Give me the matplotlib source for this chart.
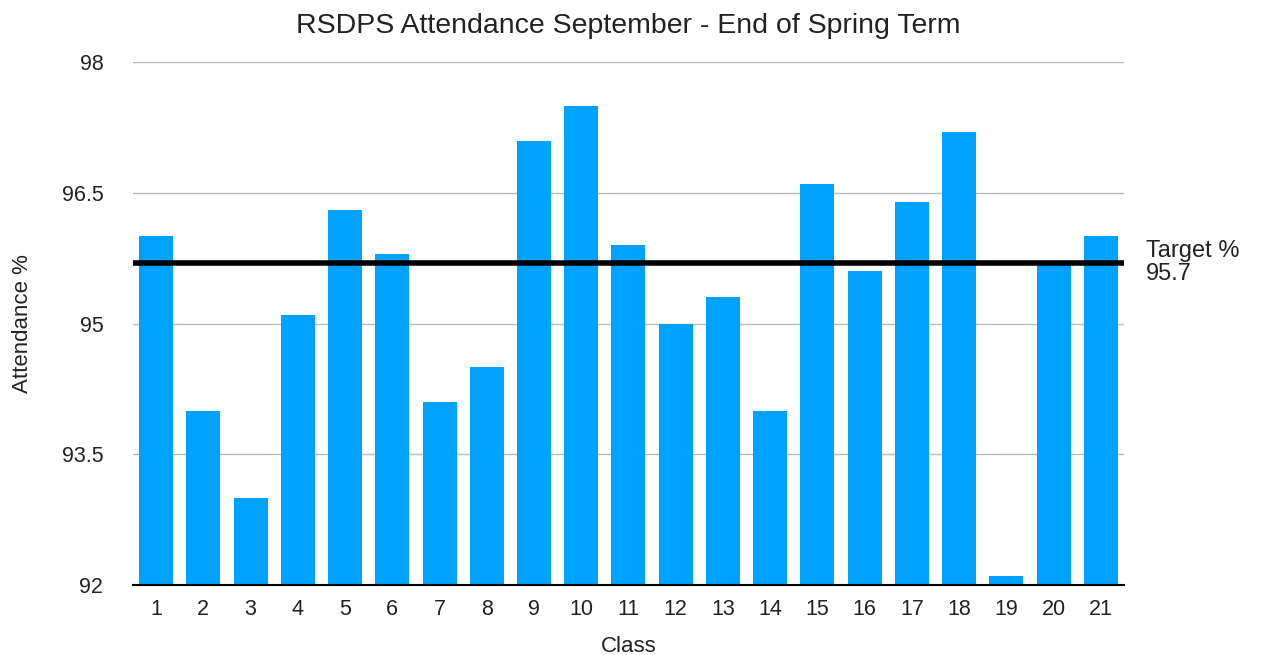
import matplotlib.pyplot as plt
import numpy as np

plt.rcParams['font.family'] = ['Liberation Sans', 'DejaVu Sans']

classes = [str(i) for i in range(1, 22)]
attendance = [96.0, 94.0, 93.0, 95.1, 96.3, 95.8, 94.1, 94.5, 97.1, 97.5, 95.9,
              95.0, 95.3, 94.0, 96.6, 95.6, 96.4, 97.2, 92.1, 95.7, 96.0]
target = 95.7
y_ticks = [92, 93.5, 95, 96.5, 98]

fig = plt.figure(figsize=(12.62, 6.55), dpi=100)
ax = fig.add_axes([0.105, 0.107, 0.786, 0.798])

x = np.arange(1, len(classes) + 1)
ax.bar(x, attendance, width=0.72, bottom=0, color='#00A2FF', zorder=2)
ax.axhline(target, color='black', linewidth=4, zorder=3)

ax.set_xlim(0.5, 21.5)
ax.set_ylim(92, 98)
ax.set_yticks(y_ticks)
ax.set_yticklabels(['92', '93.5', '95', '96.5', '98'])
ax.set_xticks(x)
ax.set_xticklabels(classes)
ax.tick_params(axis='both', length=0, labelsize=15.5, colors='#222222')
ax.tick_params(axis='x', pad=10)
ax.tick_params(axis='y', pad=21)
ax.grid(True, axis='y', color='#bbbbbb', linewidth=1, zorder=0)

for side in ['top', 'right', 'left']:
    ax.spines[side].set_visible(False)
ax.spines['bottom'].set_color('black')
ax.spines['bottom'].set_linewidth(1.5)
ax.spines['bottom'].set_zorder(4)

ax.set_title("RSDPS Attendance September - End of Spring Term", fontsize=20.5, pad=21, color='#222222')
ax.set_xlabel("Class", fontsize=16, color='#222222')
ax.xaxis.set_label_coords(0.5, -0.098)
ax.set_ylabel("Attendance %", fontsize=16, color='#222222')
ax.yaxis.set_label_coords(-0.1, 0.5)

# target label, two lines
t_frac = (target - 92) / 6
ax.text(1.022, t_frac + 0.0105, "Target %", transform=ax.transAxes,
        fontsize=17, va='baseline', ha='left', color='#222222')
ax.text(1.022, t_frac - 0.033, f"{target}", transform=ax.transAxes,
        fontsize=17, va='baseline', ha='left', color='#222222')

fig.savefig("out.png", dpi=100)
